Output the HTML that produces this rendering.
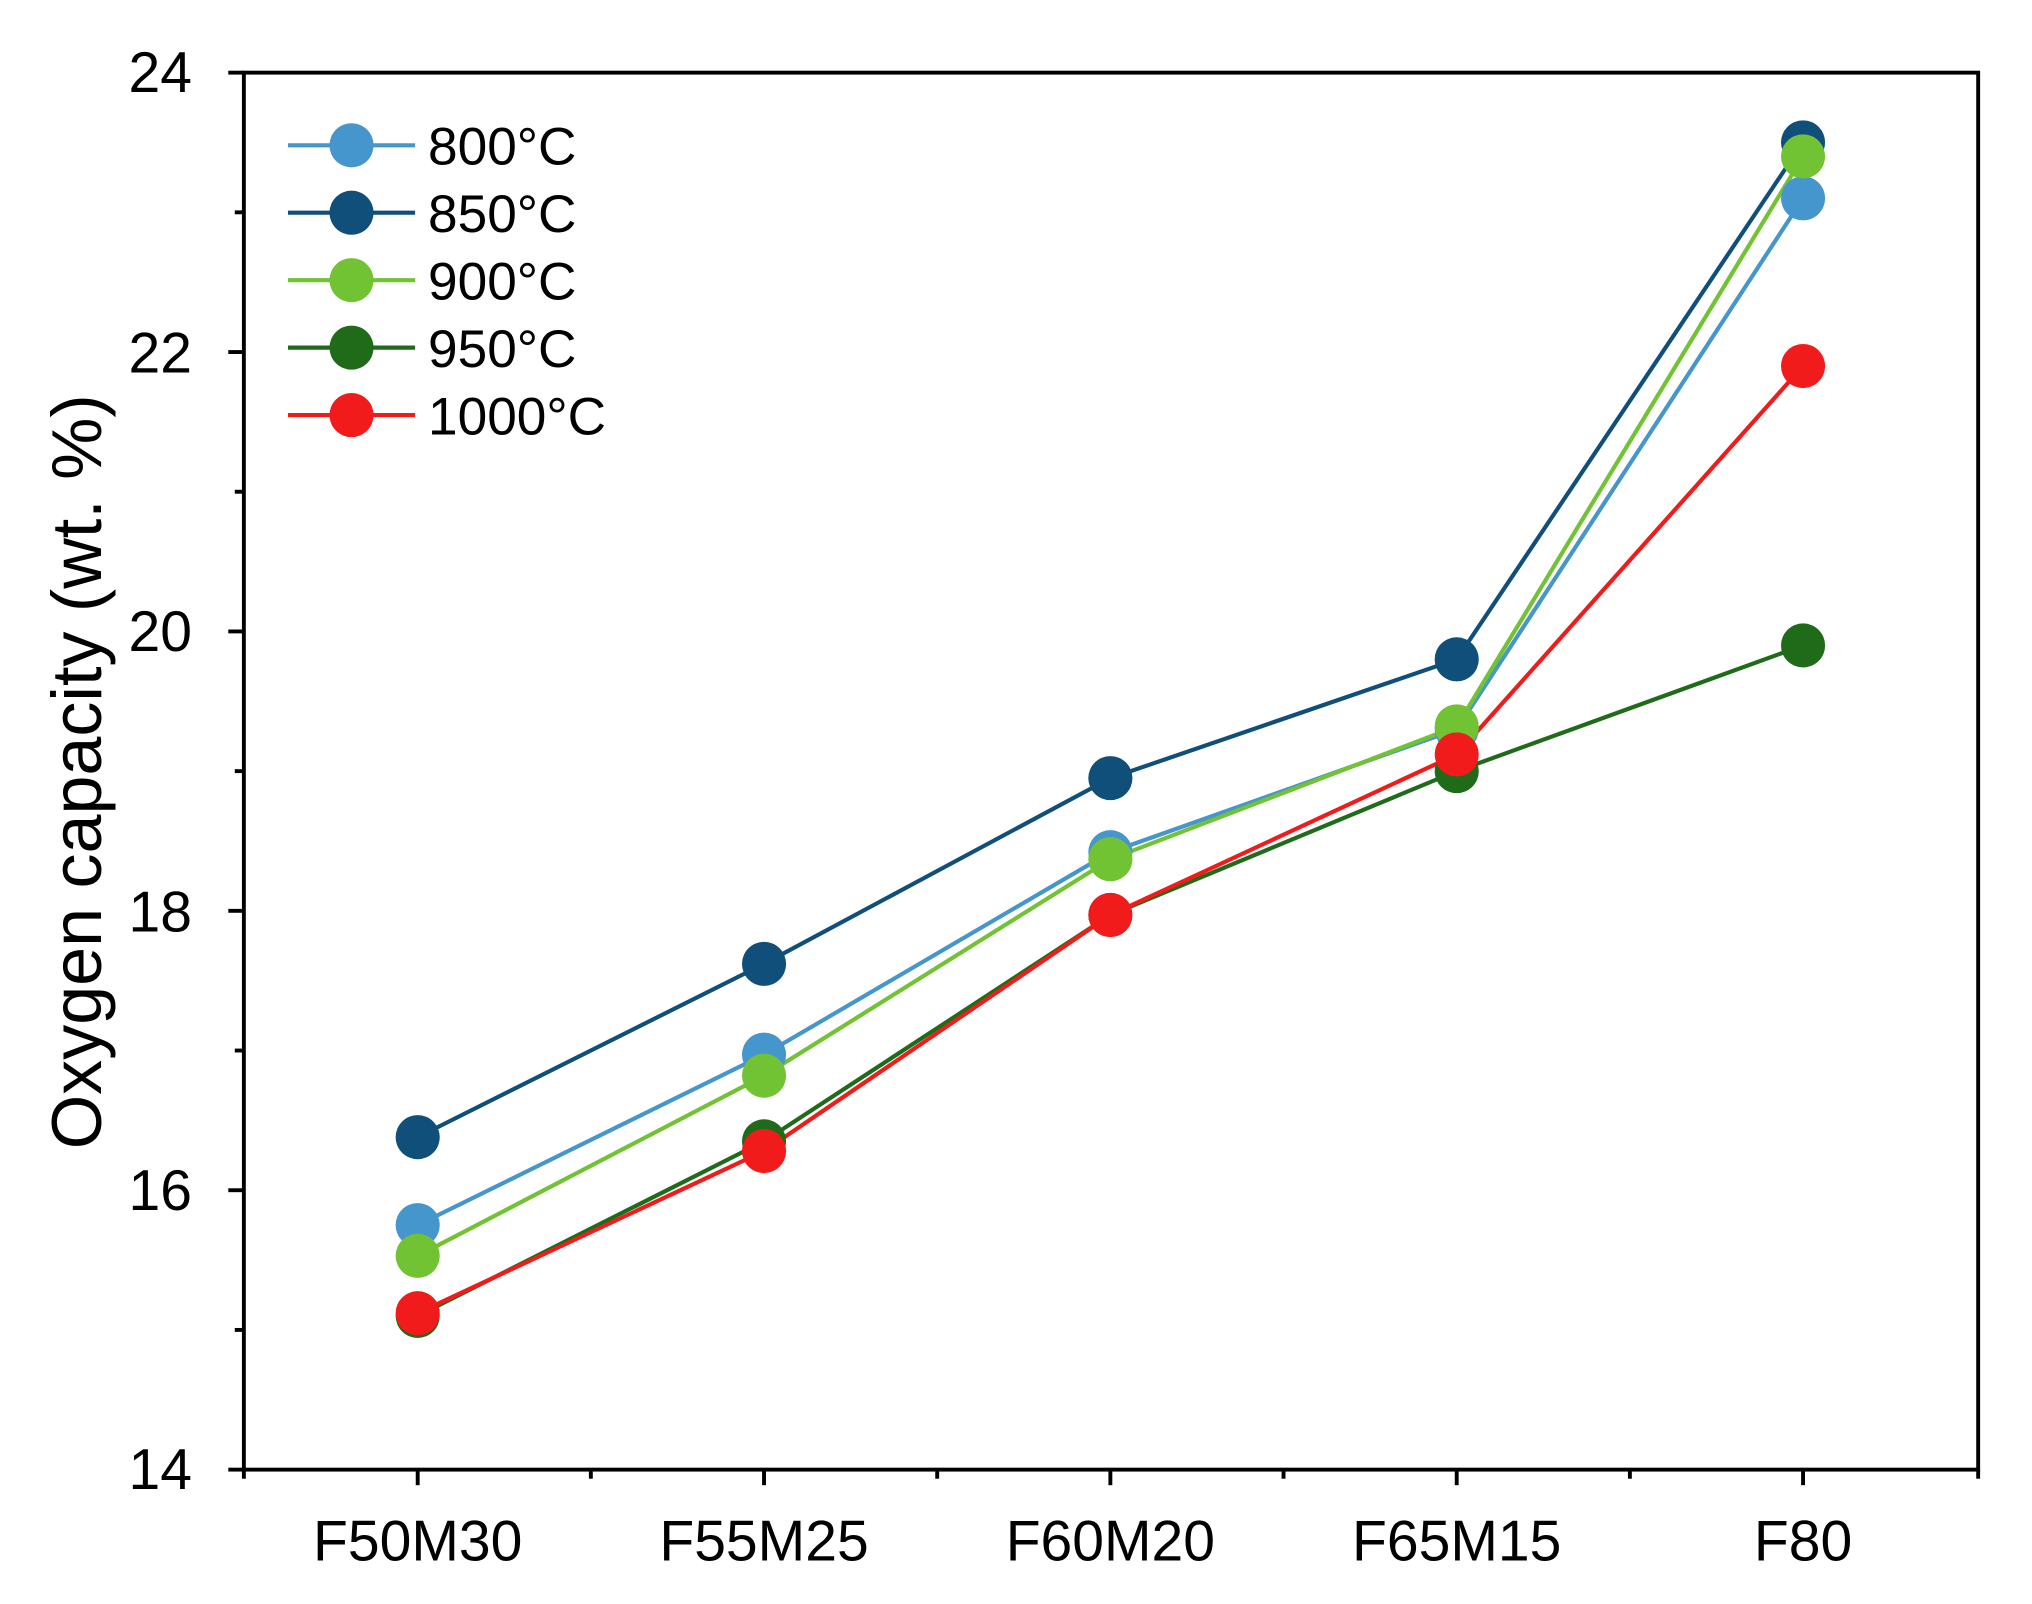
<!DOCTYPE html>
<html><head><meta charset="utf-8"><style>html,body{margin:0;padding:0;background:#fff}svg{display:block}</style></head>
<body>
<svg width="2032" height="1604" viewBox="0 0 1566.5 1236.6" preserveAspectRatio="none" xmlns="http://www.w3.org/2000/svg" font-family="Liberation Sans, Arial, sans-serif">
<rect width="1566.5" height="1236.6" fill="#fff"/>
<rect x="188" y="56" width="1337" height="1077" fill="none" stroke="#000" stroke-width="3"/>
<g stroke="#000" stroke-width="3">
<line x1="176" y1="56" x2="188" y2="56"/><line x1="176" y1="271.4" x2="188" y2="271.4"/><line x1="176" y1="486.8" x2="188" y2="486.8"/><line x1="176" y1="702.2" x2="188" y2="702.2"/><line x1="176" y1="917.6" x2="188" y2="917.6"/><line x1="176" y1="1133" x2="188" y2="1133"/>
<line x1="181" y1="163.7" x2="188" y2="163.7"/><line x1="181" y1="379.1" x2="188" y2="379.1"/><line x1="181" y1="594.5" x2="188" y2="594.5"/><line x1="181" y1="809.9" x2="188" y2="809.9"/><line x1="181" y1="1025.3" x2="188" y2="1025.3"/>
<line x1="322" y1="1133" x2="322" y2="1145"/><line x1="589" y1="1133" x2="589" y2="1145"/><line x1="856" y1="1133" x2="856" y2="1145"/><line x1="1123" y1="1133" x2="1123" y2="1145"/><line x1="1390" y1="1133" x2="1390" y2="1145"/>
<line x1="188" y1="1133" x2="188" y2="1140"/><line x1="455.5" y1="1133" x2="455.5" y2="1140"/><line x1="722.5" y1="1133" x2="722.5" y2="1140"/><line x1="989.5" y1="1133" x2="989.5" y2="1140"/><line x1="1256.5" y1="1133" x2="1256.5" y2="1140"/><line x1="1525" y1="1133" x2="1525" y2="1140"/>
</g>
<g font-size="44" text-anchor="end" fill="#000">
<text x="148" y="71">24</text><text x="148" y="287">22</text><text x="148" y="502">20</text><text x="148" y="718">18</text><text x="148" y="933">16</text><text x="148" y="1148">14</text>
</g>
<g font-size="44" text-anchor="middle" fill="#000">
<text x="322" y="1203">F50M30</text><text x="589" y="1203">F55M25</text><text x="856" y="1203">F60M20</text><text x="1123" y="1203">F65M15</text><text x="1390" y="1203">F80</text>
</g>
<text transform="translate(78,595) rotate(-90)" font-size="54" text-anchor="middle">Oxygen capacity (wt. %)</text>
<g stroke-width="3.2" fill="none">
<polyline stroke="#4496cc" points="322,944.5 589,813.1 856,657 1123,562.2 1390,152.9"/>
<polyline stroke="#0f4f7a" points="322,876.7 589,743.1 856,599.9 1123,508.3 1390,109.8"/>
<polyline stroke="#72c333" points="322,968.2 589,829.3 856,662.4 1123,560 1390,120.6"/>
<polyline stroke="#1f6b1a" points="322,1014.5 589,879.9 856,705.4 1123,594.5 1390,497.6"/>
<polyline stroke="#f21b1b" points="322,1012.4 589,887.4 856,705.4 1123,581.6 1390,282.2"/>
</g>
<g fill="#4496cc"><circle cx="322" cy="944.5" r="17"/><circle cx="589" cy="813.1" r="17"/><circle cx="856" cy="657" r="17"/><circle cx="1123" cy="562.2" r="17"/><circle cx="1390" cy="152.9" r="17"/></g>
<g fill="#0f4f7a"><circle cx="322" cy="876.7" r="17"/><circle cx="589" cy="743.1" r="17"/><circle cx="856" cy="599.9" r="17"/><circle cx="1123" cy="508.3" r="17"/><circle cx="1390" cy="109.8" r="17"/></g>
<g fill="#72c333"><circle cx="322" cy="968.2" r="17"/><circle cx="589" cy="829.3" r="17"/><circle cx="856" cy="662.4" r="17"/><circle cx="1123" cy="560" r="17"/><circle cx="1390" cy="120.6" r="17"/></g>
<g fill="#1f6b1a"><circle cx="322" cy="1014.5" r="17"/><circle cx="589" cy="879.9" r="17"/><circle cx="856" cy="705.4" r="17"/><circle cx="1123" cy="594.5" r="17"/><circle cx="1390" cy="497.6" r="17"/></g>
<g fill="#f21b1b"><circle cx="322" cy="1012.4" r="17"/><circle cx="589" cy="887.4" r="17"/><circle cx="856" cy="705.4" r="17"/><circle cx="1123" cy="581.6" r="17"/><circle cx="1390" cy="282.2" r="17"/></g>
<g stroke-width="3.2">
<line x1="222" y1="112" x2="320" y2="112" stroke="#4496cc"/><circle cx="271" cy="112" r="17" fill="#4496cc"/>
<line x1="222" y1="164" x2="320" y2="164" stroke="#0f4f7a"/><circle cx="271" cy="164" r="17" fill="#0f4f7a"/>
<line x1="222" y1="216" x2="320" y2="216" stroke="#72c333"/><circle cx="271" cy="216" r="17" fill="#72c333"/>
<line x1="222" y1="268" x2="320" y2="268" stroke="#1f6b1a"/><circle cx="271" cy="268" r="17" fill="#1f6b1a"/>
<line x1="222" y1="320" x2="320" y2="320" stroke="#f21b1b"/><circle cx="271" cy="320" r="17" fill="#f21b1b"/>
</g>
<g font-size="41" fill="#000">
<text x="330" y="127">800°C</text><text x="330" y="179">850°C</text><text x="330" y="231">900°C</text><text x="330" y="283">950°C</text><text x="330" y="335">1000°C</text>
</g>
</svg>
</body></html>
